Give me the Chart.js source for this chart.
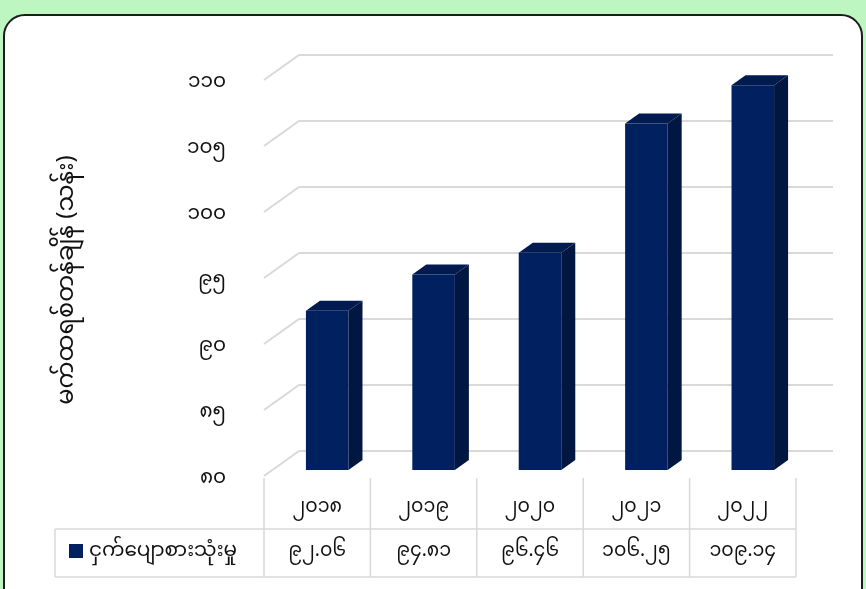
<!DOCTYPE html>
<html>
<head>
<meta charset="utf-8">
<script src="https://cdn.jsdelivr.net/npm/chart.js@4.4.1/dist/chart.umd.min.js"></script>
<style>
    html, body { margin: 0; padding: 0; }
    body { width: 866px; height: 589px; background: #bdf6c0; position: relative; overflow: hidden; }
    .card {
        position: absolute; left: 3px; top: 14px; width: 856px; height: 600px;
        background: #fff; border: 2px solid #1c1c1c; border-radius: 22px;
    }
    #chart { position: absolute; left: 0; top: 0; }
</style>
</head>
<body>
<div class="card"></div>
<canvas id="chart" width="866" height="589"></canvas>
<script>
const years = [2018, 2019, 2020, 2021, 2022];
const consumption = [92.06, 94.81, 96.46, 106.25, 109.14];
const seriesLabel = "ငှက်ပျောစားသုံးမှု";
const axisTitle = "မက်ထရစ်တန်ချိန် (သန်း)";
const yMin = 80;
const yMax = 110;
const yStep = 5;

const FONT = "'Noto Sans Myanmar', 'Padauk', 'Myanmar Text', 'Noto Sans', sans-serif";
const BAR_COLOR = "#012060";
const SIDE_COLOR = "#011640";
const TOP_COLOR = "#011a4f";
const GRID_COLOR = "#d9d9d9";
const DEPTH_X = 35;
const DEPTH_Y = 25;

function toMyanmarDigits(value) {
    return String(value).replace(/[0-9]/g, d => String.fromCharCode(0x1040 + Number(d)));
}

// back wall gridlines, side/top faces of bars, axis title and the data table
const threeDPlugin = {
    id: "threeD",
    beforeDatasetsDraw(chart) {
        const ctx = chart.ctx;
        const y = chart.scales.y;
        const x = chart.scales.x;
        const frontLeft = x.left - 10;
        const backRight = x.right + 27;
        ctx.save();
        ctx.strokeStyle = GRID_COLOR;
        ctx.lineWidth = 2;
        for (let v = yMin; v <= yMax; v += yStep) {
            const py = y.getPixelForValue(v);
            ctx.beginPath();
            ctx.moveTo(frontLeft, py + 6);
            ctx.lineTo(frontLeft + DEPTH_X, py + 6 - DEPTH_Y);
            ctx.lineTo(backRight, py + 6 - DEPTH_Y);
            ctx.stroke();
        }
        ctx.restore();
    },
    afterDatasetsDraw(chart) {
        const ctx = chart.ctx;
        const base = chart.scales.y.getPixelForValue(yMin);
        const meta = chart.getDatasetMeta(0);
        ctx.save();
        meta.data.forEach(bar => {
            const half = bar.width / 2;
            const l = bar.x - half;
            const r = bar.x + half;
            const dx = 14;
            const dy = 10;
            ctx.fillStyle = SIDE_COLOR;
            ctx.beginPath();
            ctx.moveTo(r, bar.y);
            ctx.lineTo(r + dx, bar.y - dy);
            ctx.lineTo(r + dx, base - dy);
            ctx.lineTo(r, base);
            ctx.closePath();
            ctx.fill();
            ctx.fillStyle = TOP_COLOR;
            ctx.beginPath();
            ctx.moveTo(l, bar.y);
            ctx.lineTo(l + dx, bar.y - dy);
            ctx.lineTo(r + dx, bar.y - dy);
            ctx.lineTo(r, bar.y);
            ctx.closePath();
            ctx.fill();
        });
        ctx.restore();
    },
    afterDraw(chart) {
        const ctx = chart.ctx;
        const x = chart.scales.x;
        const n = years.length;
        const step = (x.right - x.left) / n;
        const tableLeft = x.left - 10;
        const tableRight = tableLeft + step * n;
        const top = 478;
        const mid = 529;
        const bottom = 577;
        const legendLeft = 55;

        ctx.save();
        ctx.strokeStyle = GRID_COLOR;
        ctx.lineWidth = 1.5;
        ctx.beginPath();
        for (let i = 0; i <= n; i++) {
            const cx = tableLeft + i * step;
            ctx.moveTo(cx, top);
            ctx.lineTo(cx, bottom);
        }
        ctx.moveTo(legendLeft, mid);
        ctx.lineTo(tableRight, mid);
        ctx.moveTo(legendLeft, bottom);
        ctx.lineTo(tableRight, bottom);
        ctx.moveTo(legendLeft, mid);
        ctx.lineTo(legendLeft, bottom);
        ctx.stroke();

        ctx.fillStyle = "#111";
        ctx.font = "19px " + FONT;
        ctx.textAlign = "center";
        ctx.textBaseline = "middle";
        for (let i = 0; i < n; i++) {
            const cx = tableLeft + (i + 0.5) * step;
            ctx.fillText(toMyanmarDigits(years[i]), cx, 510);
            ctx.fillText(toMyanmarDigits(consumption[i].toFixed(2)), cx, 554);
        }

        ctx.fillStyle = BAR_COLOR;
        ctx.fillRect(69, 544, 14, 14);
        ctx.fillStyle = "#111";
        ctx.textAlign = "left";
        ctx.font = "20px " + FONT;
        ctx.fillText(seriesLabel, 89, 554);

        // rotated axis title
        ctx.translate(70, 280);
        ctx.rotate(-Math.PI / 2);
        ctx.textAlign = "center";
        ctx.font = "24px " + FONT;
        ctx.fillText(axisTitle, 0, 0);
        ctx.restore();
    }
};

new Chart(document.getElementById("chart"), {
    type: "bar",
    data: {
        labels: years.map(toMyanmarDigits),
        datasets: [{
            label: seriesLabel,
            data: consumption,
            backgroundColor: BAR_COLOR,
            borderWidth: 0,
            barPercentage: 0.4,
            categoryPercentage: 1
        }]
    },
    options: {
        responsive: false,
        animation: false,
        events: [],
        layout: { padding: { left: 40, right: 60, top: 74, bottom: 119 } },
        plugins: {
            legend: { display: false },
            tooltip: { enabled: false }
        },
        scales: {
            x: { display: false },
            y: {
                min: yMin,
                max: yMax,
                afterFit(scale) { scale.width = 234; },
                grid: { display: false, drawTicks: false },
                border: { display: false },
                ticks: {
                    stepSize: yStep,
                    padding: 48,
                    labelOffset: 11,
                    color: "#111",
                    font: { family: FONT, size: 20 },
                    callback: value => toMyanmarDigits(value)
                }
            }
        }
    },
    plugins: [threeDPlugin]
});
</script>
</body>
</html>
